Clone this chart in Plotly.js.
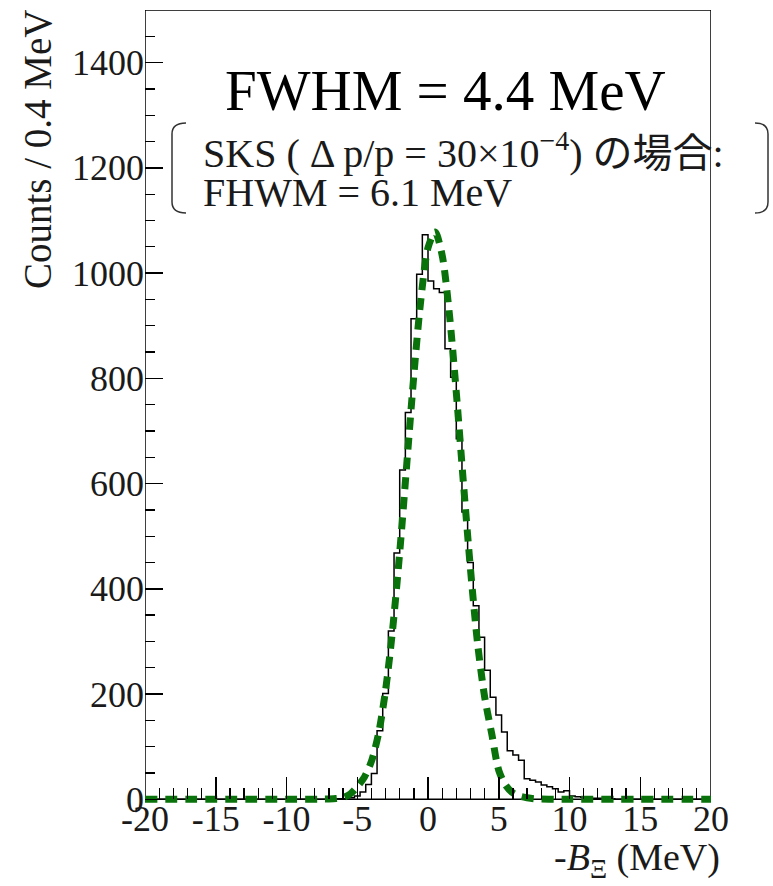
<!DOCTYPE html>
<html>
<head>
<meta charset="utf-8">
<script src="https://cdn.plot.ly/plotly-3.0.1.min.js"></script>
<style>html,body{margin:0;padding:0;background:#fff;}#chart{width:773px;height:886px;}</style>
</head>
<body>
<div id="chart"></div>
<script>
// ---- data ----
// histogram: 100 bins of 0.4 MeV from -20 to 20 MeV (counts per bin)
const binStart = -20;
const binWidth = 0.4;
const histCounts = [
  0,0,0,0,0,0,0,0,0,0,
  0,0,0,0,0,0,0,0,0,0,
  0,0,0,0,0,0,0,0,0,0,
  0,0,0,0,1,1,3,6,14,28,
  49,130,201,320,468,626,735,913,998,1073,
  985,970,963,856,802,685,546,450,368,308,
  245,194,160,128,92,84,74,39,36,33,
  27,24,20,14,16,6,5,4,3,2,
  2,1,1,0,0,0,0,0,0,0,
  0,0,0,0,0,0,0,0,0,0
];
// fitted curve (green dashed)
const fitX = [-20,-10,-8,-7.5,-7,-6.5,-6,-5.5,-5,-4.5,-4,-3.5,-3,-2.5,-2,-1.5,-1,-0.5,0,0.5,1,1.5,2,2.5,3,3.5,4,4.5,5,5.5,6,6.5,7,7.5,8,9,10,20];
const fitY = [0,0,0,0.2,0.5,1.3,3.4,10,24,42,72,124,207,323,469,637,806,951,1048,1078,1034,925,773,602,438,297,195,125,55,26,12,6,3,1,0.4,0,0,0];
// axis ticks
const xTickVals = [-20,-15,-10,-5,0,5,10,15,20];
const yTickVals = [0,200,400,600,800,1000,1200,1400];
const yMin = -9, yMax = 1500;

// ---- build step outline from bins ----
const histX = [], histY = [];
for (let i = 0; i < histCounts.length; i++) {
  histX.push(binStart + i * binWidth);
  histY.push(histCounts[i]);
}
histX.push(binStart + histCounts.length * binWidth);
histY.push(histCounts[histCounts.length - 1]);

// ---- layout helpers (pixel -> paper) ----
const W = 773, H = 886;
const mL = 145, mR = 62, mT = 10;
const zeroPix = 799;                       // pixel row of y = 0
const pxPerCount = (zeroPix - mT) / yMax;
const bottomPix = zeroPix + (-yMin) * pxPerCount;
const mB = H - bottomPix;
const pw = W - mL - mR, ph = bottomPix - mT;
const px = x => (x - mL) / pw;
const py = y => (bottomPix - y) / ph;

const serif = "Liberation Serif, Times New Roman, serif";
const jfont = "Liberation Serif, Noto Sans CJK JP, serif";

function bracket(xEnd, xLine, yTop, yBot) {
  const r = 11;
  return `M ${px(xEnd)} ${py(yTop)} Q ${px(xLine)} ${py(yTop)} ${px(xLine)} ${py(yTop + r)} ` +
         `L ${px(xLine)} ${py(yBot - r)} Q ${px(xLine)} ${py(yBot)} ${px(xEnd)} ${py(yBot)}`;
}

const traces = [
  {
    x: histX, y: histY, type: 'scatter', mode: 'lines',
    line: {shape: 'hv', color: '#000000', width: 1.5},
    hoverinfo: 'skip', showlegend: false
  },
  {
    x: fitX, y: fitY, type: 'scatter', mode: 'lines',
    line: {shape: 'spline', smoothing: 0.8, color: '#0a720a', width: 7, dash: '12px,8px'},
    hoverinfo: 'skip', showlegend: false
  }
];

const layout = {
  width: W, height: H,
  margin: {l: mL, r: mR, t: mT, b: mB, pad: 0},
  paper_bgcolor: '#ffffff', plot_bgcolor: '#ffffff',
  showlegend: false,
  xaxis: {
    range: [-20, 20], tickmode: 'array', tickvals: xTickVals,
    ticktext: xTickVals.map(String),
    anchor: 'free', position: (-yMin) / (yMax - yMin),
    ticks: 'inside', ticklen: 22, tickwidth: 1.5, tickcolor: '#000',
    minor: {dtick: 1, ticks: 'inside', ticklen: 11, tickwidth: 1.3, tickcolor: '#000'},
    showline: false,
    showgrid: false, zeroline: false,
    ticklabelstandoff: -5,
    tickfont: {family: serif, size: 36, color: '#1a1a1a'}
  },
  yaxis: {
    range: [yMin, yMax], tickmode: 'array', tickvals: yTickVals,
    ticktext: yTickVals.map(String),
    ticks: 'inside', ticklen: 18, tickwidth: 1.5, tickcolor: '#000',
    minor: {dtick: 50, ticks: 'inside', ticklen: 10, tickwidth: 1.3, tickcolor: '#000'},
    showline: false,
    showgrid: false, zeroline: false,
    tickfont: {family: serif, size: 36, color: '#1a1a1a'}
  },
  annotations: [
    {xref: 'paper', yref: 'paper', x: px(445), y: py(90), xanchor: 'center', yanchor: 'middle',
     text: 'FWHM = 4.4 MeV', showarrow: false, font: {family: serif, size: 57, color: '#000'}},
    {xref: 'paper', yref: 'paper', x: px(201), y: py(150), xanchor: 'left', yanchor: 'middle',
     text: 'SKS ( Δ p/p = 30×10<sup>−4</sup>) の場合:', showarrow: false,
     font: {family: jfont, size: 40, color: '#1a1a1a'}},
    {xref: 'paper', yref: 'paper', x: px(201), y: py(192), xanchor: 'left', yanchor: 'middle',
     text: 'FHWM = 6.1 MeV', showarrow: false,
     font: {family: jfont, size: 40, color: '#1a1a1a'}},
    {xref: 'paper', yref: 'paper', x: px(722), y: py(860), xanchor: 'right', yanchor: 'middle',
     text: '-<i>B</i><sub>Ξ</sub> (MeV)', showarrow: false,
     font: {family: serif, size: 38, color: '#1a1a1a'}},
    {xref: 'paper', yref: 'paper', x: px(38), y: py(7), xanchor: 'center', yanchor: 'top',
     text: 'Counts / 0.4 MeV', textangle: -90, showarrow: false,
     font: {family: serif, size: 39, color: '#1a1a1a'}}
  ],
  shapes: [
    {type: 'rect', xref: 'x', yref: 'y', x0: -20, x1: 20, y0: 0, y1: yMax,
     line: {color: '#000', width: 1.5}, layer: 'below'},
    {type: 'path', xref: 'paper', yref: 'paper', path: bracket(186, 172, 123, 213),
     line: {color: '#333', width: 1.5}},
    {type: 'path', xref: 'paper', yref: 'paper', path: bracket(755, 768, 123, 213),
     line: {color: '#333', width: 1.5}}
  ]
};

Plotly.newPlot('chart', traces, layout, {staticPlot: true, displayModeBar: false});
</script>
</body>
</html>
